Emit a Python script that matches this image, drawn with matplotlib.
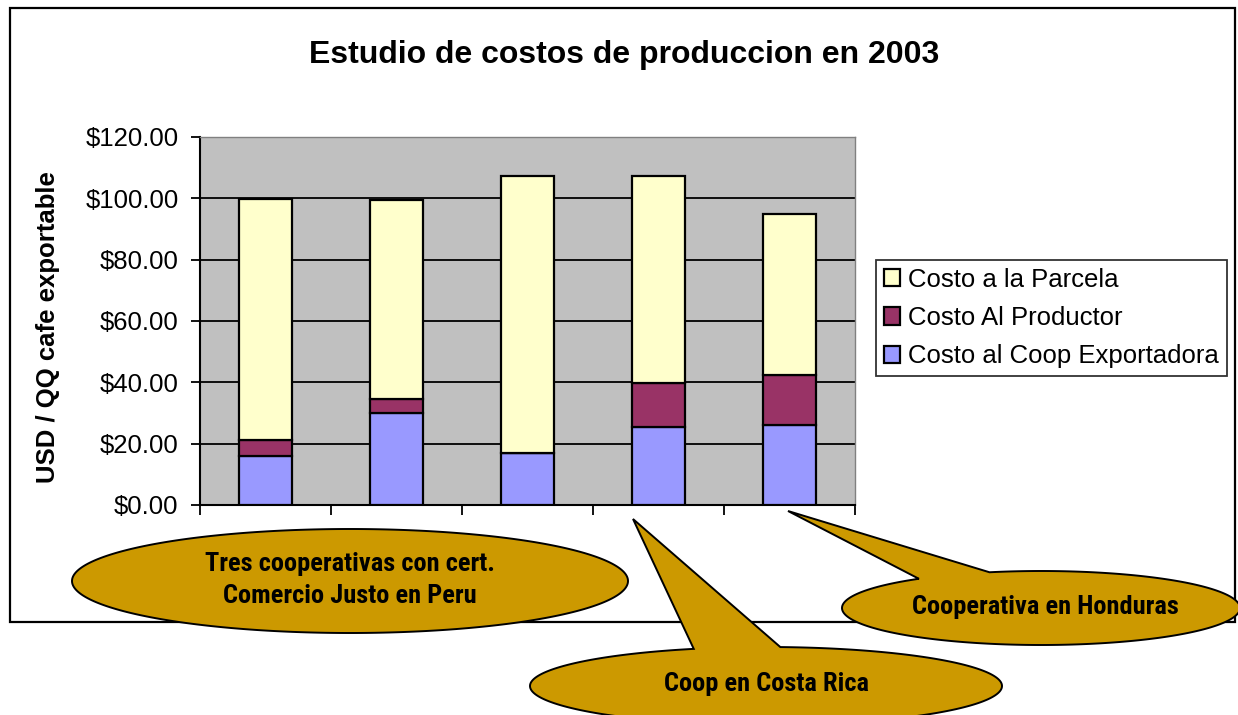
import numpy as np
import matplotlib.pyplot as plt
from matplotlib import font_manager
from matplotlib.patches import Rectangle, Polygon

# Data (USD / QQ)
groups = ["Peru 1", "Peru 2", "Peru 3", "Costa Rica", "Honduras"]
coop_exportadora = [16.0, 30.0, 16.8, 25.3, 26.0]
al_productor = [5.3, 4.5, 0.0, 14.5, 16.4]
a_la_parcela = [78.6, 65.0, 90.5, 67.5, 52.5]
series_labels = ["Costo al Coop Exportadora", "Costo Al Productor", "Costo a la Parcela"]
series_colors = ["#9999FF", "#993366", "#FFFFCC"]
y_ticks = [0, 20, 40, 60, 80, 100, 120]

callout_texts = ["Tres cooperativas con cert.\nComercio Justo en Peru",
                 "Coop en Costa Rica",
                 "Cooperativa en Honduras"]

plt.rcParams['font.family'] = ['Liberation Sans', 'DejaVu Sans']

# narrow bold face for the callouts (Arial Narrow look)
names = {f.name for f in font_manager.fontManager.ttflist}
narrow = dict(family='DejaVu Sans', stretch='condensed')
narrow_size = 15.5
for cand in ['Liberation Sans Narrow', 'Roboto Condensed', 'Open Sans Condensed']:
    if cand in names:
        narrow = dict(family=cand)
        narrow_size = 19
        break

W, H = 1238, 715
fig = plt.figure(figsize=(W / 100, H / 100), dpi=100, facecolor='white')

# main plot area (pixel box 200..855 x 137..505)
ax = fig.add_axes([200 / W, 1 - 505 / H, 655 / W, 368 / H])
ax.set_facecolor('#C0C0C0')

x = np.arange(len(groups))
bottom = np.zeros(len(groups))
handles = []
for vals, lab, col in zip([coop_exportadora, al_productor, a_la_parcela], series_labels, series_colors):
    b = ax.bar(x, vals, width=0.4, bottom=bottom, color=col, edgecolor='black',
               linewidth=1.6, label=lab, zorder=3)
    handles.append(b)
    bottom = bottom + np.array(vals)

ax.set_xlim(-0.5, len(groups) - 0.5)
ax.set_ylim(0, 120)
ax.set_yticks(y_ticks)
ax.set_yticklabels([f"${v:.2f}" for v in y_ticks], fontsize=18.5)
ax.set_xticks(np.arange(len(groups) + 1) - 0.5)
ax.set_xticklabels([])
ax.tick_params(axis='y', length=6.5, width=1.3, pad=9, direction='out')
ax.tick_params(axis='x', length=7, width=1.3, direction='out')
ax.grid(True, axis='y', color='black', linewidth=1.3, zorder=1)
ax.set_axisbelow(True)
for s in ['left', 'bottom']:
    ax.spines[s].set_color('black')
    ax.spines[s].set_linewidth(1.5)
for s in ['top', 'right']:
    ax.spines[s].set_color('#808080')
    ax.spines[s].set_linewidth(1.0)

ax.set_ylabel("USD / QQ cafe exportable", fontsize=18.5, fontweight='bold')
ax.yaxis.set_label_coords((60 - 200) / 655, (505 - 327) / 368)

leg = fig.legend(handles[::-1], series_labels[::-1], loc='center left',
                 bbox_to_anchor=(876 / W, 1 - 318 / H), fontsize=18.5,
                 frameon=True, fancybox=False, edgecolor='black',
                 handlelength=0.65, handleheight=0.65, handletextpad=0.3,
                 borderpad=0.3, labelspacing=0.55, borderaxespad=0)
leg.get_frame().set_linewidth(1.3)

fig.text(624 / W, 1 - 55 / H, "Estudio de costos de produccion en 2003",
         ha='center', va='center', fontsize=23, fontweight='bold')

# overlay for chart border and callouts, in pixel coordinates
ov = fig.add_axes([0, 0, 1, 1], zorder=10)
ov.set_xlim(0, W)
ov.set_ylim(H, 0)
ov.axis('off')
ov.patch.set_alpha(0)

ov.add_patch(Rectangle((10, 8), 1225, 614, fill=False, edgecolor='black', linewidth=1.6, zorder=1))


def callout(cx, cy, a, b, tip=None, base=None):
    if tip is None:
        t = np.linspace(0, 2 * np.pi, 400)
        pts = np.column_stack([cx + a * np.cos(t), cy + b * np.sin(t)])
    else:
        start, end = [np.arctan2((py - cy) / b, (px - cx) / a) for px, py in base]
        while end <= start:
            end += 2 * np.pi
        tt = np.linspace(start, end, 400)
        pts = np.column_stack([cx + a * np.cos(tt), cy + b * np.sin(tt)])
        pts = np.vstack([pts, [tip]])
    ov.add_patch(Polygon(pts, closed=True, facecolor='#CC9900', edgecolor='black',
                         linewidth=1.4, zorder=5))


callout(350, 581, 278, 52)
callout(766, 686, 236, 39, tip=(633, 519), base=[(780, 648), (694, 649)])
callout(1041, 608, 199, 37, tip=(788, 511), base=[(992, 574), (924, 580)])

ov.text(350, 580, callout_texts[0], ha='center', va='center', fontsize=narrow_size,
        fontweight='bold', linespacing=1.45, zorder=6, **narrow)
ov.text(766, 684, callout_texts[1], ha='center', va='center', fontsize=narrow_size,
        fontweight='bold', zorder=6, **narrow)
ov.text(1045, 607, callout_texts[2], ha='center', va='center', fontsize=narrow_size,
        fontweight='bold', zorder=6, **narrow)

fig.savefig("out.png", dpi=100)
